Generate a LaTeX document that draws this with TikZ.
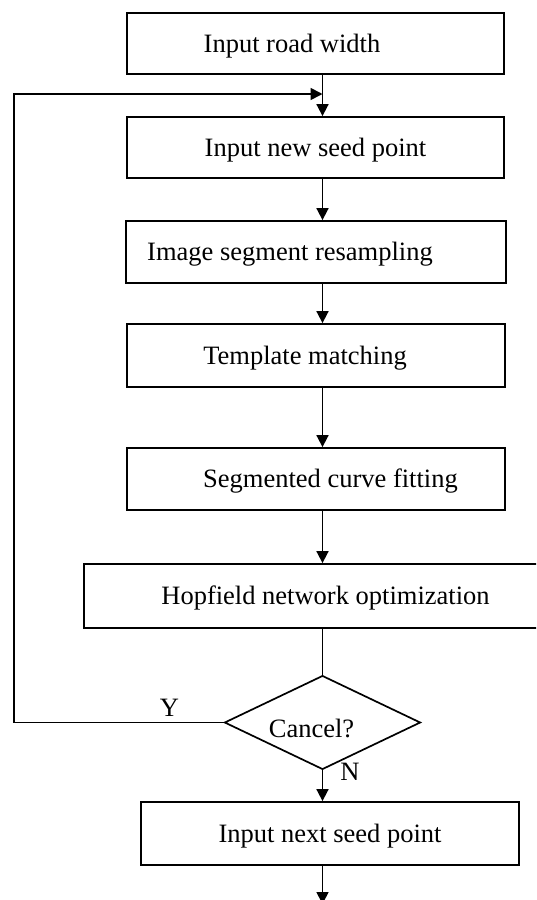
\documentclass[tikz,border=0pt]{standalone}
\usepackage{fontspec}
\setmainfont{Liberation Serif}
\usetikzlibrary{arrows.meta,shapes.geometric}
\newcommand\shiftx[2]{\kern#1\relax #2}
\begin{document}
\begin{tikzpicture}[x=1pt,y=-1pt,
  every node/.style={font=\fontsize{26.5}{30}\selectfont},
  box/.style={draw, line width=1.8pt, inner sep=0pt, text height=20pt, text depth=2.5pt},
  dec/.style={draw, diamond, line width=1.7pt, inner sep=0pt, minimum width=196pt, minimum height=87pt, text height=30.5pt, text depth=0pt},
  conn/.style={line width=1.7pt},
  arr/.style={line width=1.7pt, -{Triangle[length=12pt,width=12pt]}},
  lbl/.style={anchor=base, inner sep=0pt}]
\useasboundingbox (0,0) rectangle (536,900);
\clip (0,0) rectangle (536,900);
\coordinate (sp) at (322.5,0);
\node[box, minimum width=377pt, minimum height=61pt] (b1) at (315.5,43.5) {\shiftx{-47pt}{Input road width}};
\node[box, minimum width=377pt, minimum height=61pt] (b2) at (315.5,147.5) {Input new seed point};
\node[box, minimum width=380pt, minimum height=62pt] (b3) at (316,252) {\shiftx{-52pt}{Image segment resampling}};
\node[box, minimum width=378pt, minimum height=63pt] (b4) at (316,355.5) {\shiftx{-22pt}{Template matching}};
\node[box, minimum width=378pt, minimum height=62pt] (b5) at (316,479) {\shiftx{29pt}{Segmented curve fitting}};
\node[box, minimum width=483pt, minimum height=64pt] (b6) at (325.5,596) {Hopfield network optimization};
\node[dec] (dia) at (322.5,722.5) {\shiftx{-22pt}{Cancel?}};
\node[box, minimum width=378pt, minimum height=63pt] (b7) at (330,833.5) {Input next seed point};
\node[lbl] (ly) at (169.5,716) {Y};
\node[lbl] (ln) at (350,780) {N};
\coordinate (lt) at (14,94);
\coordinate (endp) at (322.5,904);
\draw[arr] (b1.south -| sp) -- (b2.north -| sp);
\draw[arr] (dia.west) -| (lt) -- (lt -| sp);
\draw[arr] (b2.south -| sp) -- (b3.north -| sp);
\draw[arr] (b3.south -| sp) -- (b4.north -| sp);
\draw[arr] (b4.south -| sp) -- (b5.north -| sp);
\draw[arr] (b5.south -| sp) -- (b6.north -| sp);
\draw[conn] (b6.south -| sp) -- (dia.north);
\draw[arr] (dia.south) -- (b7.north -| sp);
\draw[arr] (b7.south -| sp) -- (endp);
\end{tikzpicture}
\end{document}
